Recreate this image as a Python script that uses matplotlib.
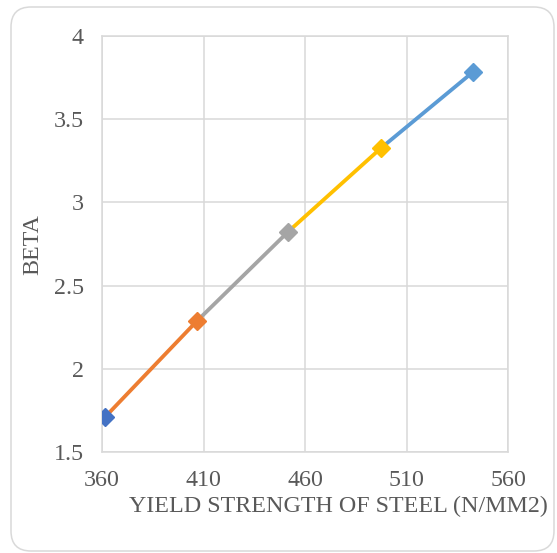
import matplotlib.pyplot as plt
from matplotlib.patches import FancyBboxPatch

# yield strength vs reliability index
fy = [361.5, 406.6, 451.8, 497.3, 542.9]
beta = [1.71, 2.285, 2.825, 3.325, 3.785]
point_colors = ['#4472C4', '#ED7D31', '#A5A5A5', '#FFC000', '#5B9BD5']
xticks = [360, 410, 460, 510, 560]
yticks = [1.5, 2, 2.5, 3, 3.5, 4]

txt = '#595959'
grid = '#D9D9D9'
fs = 17.3
plt.rcParams['font.family'] = ['Liberation Serif', 'DejaVu Serif']

fig = plt.figure(figsize=(5.57, 5.53), dpi=100)
ax = fig.add_axes([102/557, 1-452/553, 406/557, 416/553])

# each segment takes the colour of the point it runs into
for i in range(len(fy)-1):
    ax.plot(fy[i:i+2], beta[i:i+2], color=point_colors[i+1], lw=2.75,
            solid_capstyle='butt', zorder=3)
for i in range(len(fy)):
    ax.plot(fy[i], beta[i], marker='D', ms=8.8, color=point_colors[i],
            mec=point_colors[i], zorder=4)

ax.set_xlim(360, 560)
ax.set_ylim(1.5, 4)
ax.set_xticks(xticks)
ax.set_yticks(yticks)
ax.set_yticklabels(['1.5', '2', '2.5', '3', '3.5', '4'])
ax.grid(True, color=grid, lw=1.1)
ax.set_axisbelow(True)
for s in ax.spines.values():
    s.set_color(grid)
    s.set_linewidth(1.1)
ax.tick_params(length=0, labelsize=fs, colors=txt, pad=13)

fig.text(33/557, 1-245/553, 'BETA', fontsize=fs, color=txt, rotation=90,
         ha='center', va='center')
fig.text(338/557, 1-506/553, 'YIELD STRENGTH OF STEEL (N/MM2)', fontsize=fs,
         color=txt, ha='center', va='center')

border = FancyBboxPatch((0.11, 0.02), 5.43, 5.44,
                        boxstyle='round,pad=0,rounding_size=0.2',
                        transform=fig.dpi_scale_trans, fc='none', ec=grid, lw=1.1)
fig.patches.append(border)

fig.savefig('out.png', dpi=100)
